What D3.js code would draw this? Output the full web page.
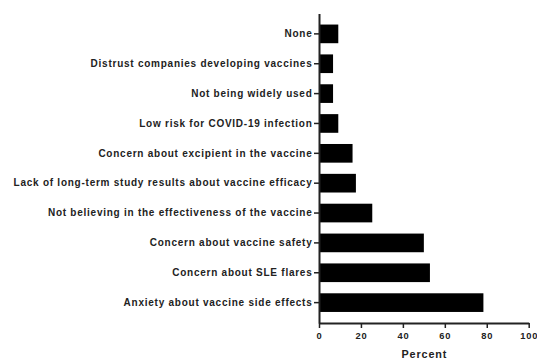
<!DOCTYPE html>
<html>
<head>
<meta charset="utf-8">
<script src="https://cdn.jsdelivr.net/npm/d3@7"></script>
<style>
  html, body { margin: 0; padding: 0; background: #fff; }
  svg { display: block; }
  text { font-family: "Liberation Sans", Arial, sans-serif; }
</style>
</head>
<body>
<svg id="chart" width="537" height="359"></svg>
<script>
// Reasons for vaccine hesitancy (percent of respondents)
const categories = [
  "None",
  "Distrust companies developing vaccines",
  "Not being widely used",
  "Low risk for COVID-19 infection",
  "Concern about excipient in the vaccine",
  "Lack of long-term study results about vaccine efficacy",
  "Not believing in the effectiveness of the vaccine",
  "Concern about vaccine safety",
  "Concern about SLE flares",
  "Anxiety about vaccine side effects"
];
const percents = [9.2, 6.7, 6.7, 9.2, 16.0, 17.6, 25.4, 50.0, 52.9, 78.4];
const xTicks = [0, 20, 40, 60, 80, 100];
const xTitle = "Percent";

const svg = d3.select("#chart");
const plot = { left: 319, right: 528.7, top: 13.5, bottom: 323 };

const x = d3.scaleLinear().domain([0, 100]).range([plot.left, plot.right]);
const y = d3.scaleBand().domain(categories).range([plot.top, plot.bottom])
  .paddingInner(0.375).paddingOuter(0.37);

// bars
svg.append("g").selectAll("rect")
  .data(categories)
  .join("rect")
  .attr("x", x(0))
  .attr("y", d => y(d))
  .attr("width", (d, i) => x(percents[i]) - x(0))
  .attr("height", y.bandwidth())
  .attr("fill", "#000");

// x axis
const gx = svg.append("g")
  .attr("transform", `translate(0,${plot.bottom})`)
  .call(d3.axisBottom(x).tickValues(xTicks).tickSize(5).tickSizeOuter(0).tickPadding(4.5));
gx.select(".domain").attr("stroke", "#222").attr("stroke-width", 2);
gx.selectAll(".tick line").attr("stroke", "#222").attr("stroke-width", 1.5);
gx.selectAll(".tick text")
  .attr("font-size", 9.3).attr("font-weight", "bold").attr("fill", "#222")
  .style("letter-spacing", "0.8px")
  .style("font-family", '"Liberation Sans", Arial, sans-serif');

// y axis
const gy = svg.append("g")
  .attr("transform", `translate(${plot.left},0)`)
  .call(d3.axisLeft(y).tickSize(5).tickSizeOuter(0).tickPadding(1.5));
gy.select(".domain").attr("stroke", "#222").attr("stroke-width", 2);
gy.selectAll(".tick line").attr("stroke", "#222").attr("stroke-width", 1.5);
gy.selectAll(".tick text")
  .attr("font-size", 10).attr("font-weight", "bold").attr("fill", "#222")
  .style("letter-spacing", "0.75px")
  .style("font-family", '"Liberation Sans", Arial, sans-serif');

// x axis title
svg.append("text")
  .attr("x", (plot.left + plot.right) / 2 + 0.5)
  .attr("y", 357.5)
  .attr("text-anchor", "middle")
  .attr("font-size", 10.8)
  .attr("font-weight", "bold")
  .attr("fill", "#222")
  .style("letter-spacing", "0.9px")
  .text(xTitle);
</script>
</body>
</html>
